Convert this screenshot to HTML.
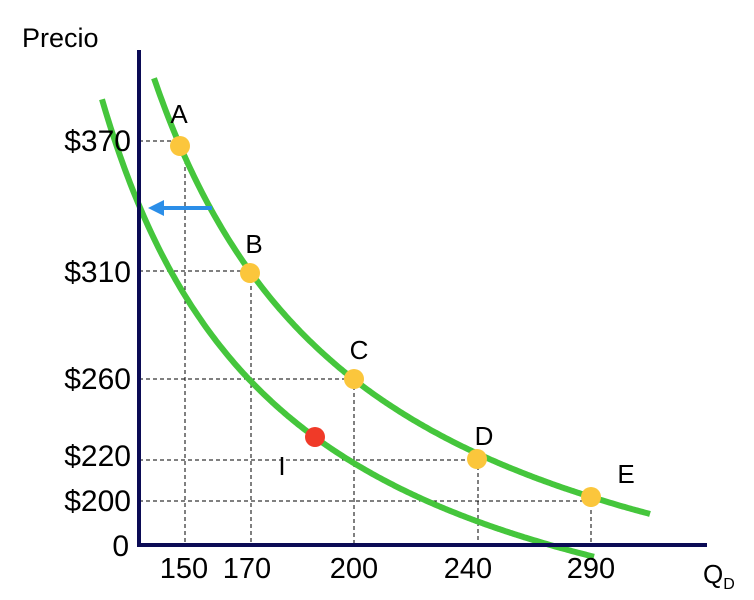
<!DOCTYPE html>
<html><head><meta charset="utf-8"><style>
body{margin:0;background:#fff;}
svg{display:block;font-family:"Liberation Sans",sans-serif;}
</style></head><body>
<svg width="754" height="600" viewBox="0 0 754 600">
<rect width="754" height="600" fill="#fff"/>
<g stroke="#000" stroke-width="1" stroke-dasharray="4,3" fill="none">
<path d="M139 141H180M185 146V545"/>
<path d="M139 271H250M251 272V545"/>
<path d="M139 379H353M354 379V545"/>
<path d="M139 460H477M478 459V545"/>
<path d="M139 501H590M591 496V545"/>
</g>
<g stroke="#45c63c" stroke-width="6" fill="none" stroke-linejoin="round">
<path id="c1"/>
<path id="c2"/>
</g>
<path d="M139 50V545H707" stroke="#0b0b55" stroke-width="4" fill="none"/>
<line x1="212" y1="208" x2="160" y2="208" stroke="#2b8ee8" stroke-width="4"/>
<polygon points="148,208 164,200 164,216" fill="#2b8ee8"/>
<g fill="#fbc63c">
<circle cx="180" cy="146" r="10"/><circle cx="250" cy="273" r="10"/>
<circle cx="354" cy="379" r="10"/><circle cx="477" cy="459" r="10"/>
<circle cx="591" cy="497" r="10"/>
</g>
<circle cx="315" cy="437" r="10" fill="#f03a28"/>
<g fill="#000">
<text x="22" y="47" style="font-size:27px">Precio</text>
<g text-anchor="end" style="font-size:30px">
<text x="131" y="151">$370</text><text x="131" y="282">$310</text>
<text x="131" y="389">$260</text><text x="131" y="466">$220</text>
<text x="131" y="511">$200</text><text x="129" y="556">0</text>
</g>
<g text-anchor="middle" style="font-size:29px">
<text x="184" y="578">150</text><text x="247" y="578">170</text>
<text x="354" y="578">200</text><text x="468" y="578">240</text>
<text x="591" y="578">290</text>
</g>
<g text-anchor="middle" style="font-size:26px">
<text x="179" y="123">A</text><text x="254" y="253">B</text>
<text x="359" y="359">C</text><text x="484" y="445">D</text>
<text x="626" y="483">E</text><text x="282" y="475">I</text>
</g>
<text x="703" y="583" style="font-size:26px">Q<tspan style="font-size:16px" dy="6">D</tspan></text>
</g>
</svg>
<script>
function mk(id,a,b,c,x0,x1){var d="";for(var x=x0;x<=x1;x+=2){var y=a-b/(x-c);d+=(d?"L":"M")+x.toFixed(1)+" "+y.toFixed(1);}document.getElementById(id).setAttribute("d",d);}
mk("c1",702,133500,-60,154,650);
mk("c2",726,114060,-80,102,595);
</script>
</body></html>
